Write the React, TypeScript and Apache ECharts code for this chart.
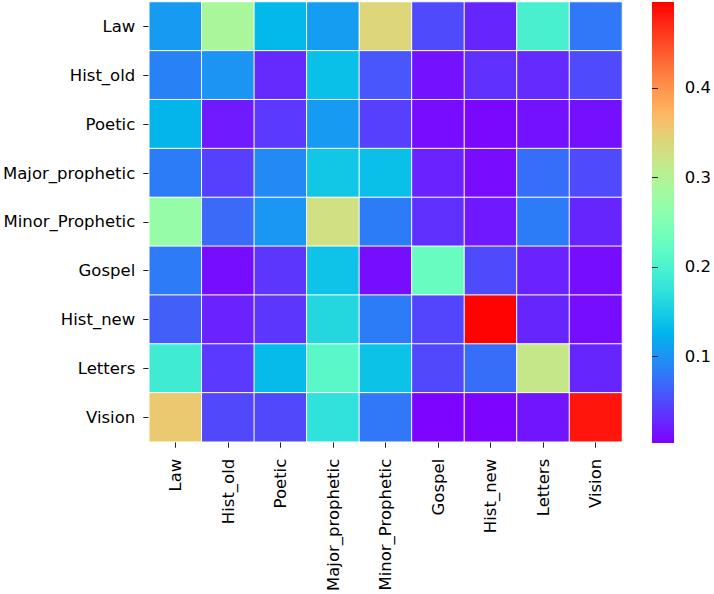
import React, { useEffect, useRef } from "react";
import * as echarts from "echarts";

const categories = [
  "Law",
  "Hist_old",
  "Poetic",
  "Major_prophetic",
  "Minor_Prophetic",
  "Gospel",
  "Hist_new",
  "Letters",
  "Vision",
];

// rows (top to bottom), columns (left to right)
const rowLaw = [0.105, 0.291, 0.129, 0.107, 0.34, 0.05, 0.026, 0.196, 0.08];
const rowHistOld = [0.087, 0.1, 0.029, 0.137, 0.057, 0.014, 0.033, 0.029, 0.05];
const rowPoetic = [0.127, 0.019, 0.038, 0.105, 0.043, 0.01, 0.008, 0.014, 0.013];
const rowMajor = [0.083, 0.043, 0.092, 0.144, 0.137, 0.024, 0.01, 0.073, 0.05];
const rowMinor = [0.272, 0.07, 0.102, 0.328, 0.083, 0.033, 0.018, 0.083, 0.026];
const rowGospel = [0.082, 0.011, 0.036, 0.14, 0.011, 0.227, 0.05, 0.024, 0.011];
const rowHistNew = [0.063, 0.024, 0.036, 0.161, 0.083, 0.046, 0.495, 0.026, 0.011];
const rowLetters = [0.188, 0.038, 0.132, 0.213, 0.139, 0.048, 0.073, 0.318, 0.026];
const rowVision = [0.353, 0.048, 0.048, 0.173, 0.08, 0.006, 0.006, 0.016, 0.483];

const matrix = [
  rowLaw,
  rowHistOld,
  rowPoetic,
  rowMajor,
  rowMinor,
  rowGospel,
  rowHistNew,
  rowLetters,
  rowVision,
];

const colorbarTicks = [0.1, 0.2, 0.3, 0.4];
const VMIN = 0.003;
const VMAX = 0.496;

// matplotlib "rainbow" colormap
function rainbow(x: number): string {
  const r = Math.min(1, Math.abs(2 * x - 0.5));
  const g = Math.sin(Math.PI * x);
  const b = Math.cos((Math.PI * x) / 2);
  const c = (v: number) => Math.round(Math.max(0, Math.min(1, v)) * 255);
  return `rgb(${c(r)},${c(g)},${c(b)})`;
}

const N_COLORS = 64;
const palette = Array.from({ length: N_COLORS }, (_, i) => rainbow(i / (N_COLORS - 1)));

const FONT = "DejaVu Sans";
const FS = 16.5;

export default function App() {
  const ref = useRef<HTMLDivElement>(null);

  useEffect(() => {
    if (!ref.current) return;
    const chart = echarts.init(ref.current, undefined, { renderer: "svg" });

    const data: [number, number, number][] = [];
    matrix.forEach((row, yi) => {
      row.forEach((v, xi) => data.push([xi, yi, v]));
    });

    const gridLeft = 147;
    const gridTop = 2;
    const gridW = 475;
    const gridH = 441;
    const cbLeft = 652;
    const cbW = 22;

    chart.setOption({
      animation: false,
      backgroundColor: "#fff",
      textStyle: { fontFamily: FONT },
      grid: [
        { left: gridLeft, top: gridTop, width: gridW, height: gridH },
        { left: cbLeft, top: gridTop, width: cbW, height: gridH },
      ],
      xAxis: [
        {
          type: "category",
          gridIndex: 0,
          data: categories,
          axisLine: { show: false },
          axisTick: { show: true, alignWithLabel: true, length: 6, lineStyle: { color: "#222" } },
          axisLabel: {
            rotate: 90,
            fontSize: FS,
            color: "#000",
            fontFamily: FONT,
            margin: 17,
          },
          splitLine: { show: false },
        },
        {
          type: "value",
          gridIndex: 1,
          show: false,
          min: 0,
          max: 1,
        },
      ],
      yAxis: [
        {
          type: "category",
          gridIndex: 0,
          data: categories,
          inverse: true,
          axisLine: { show: false },
          axisTick: { show: true, alignWithLabel: true, length: 6, lineStyle: { color: "#222" } },
          axisLabel: {
            fontSize: FS,
            color: "#000",
            fontFamily: FONT,
            margin: 14,
          },
          splitLine: { show: false },
        },
        {
          type: "value",
          gridIndex: 1,
          position: "right",
          min: VMIN,
          max: VMAX,
          axisLine: { show: false },
          axisTick: {
            show: true,
            length: 6,
            lineStyle: { color: "#222" },
            customValues: colorbarTicks,
          },
          axisLabel: {
            fontSize: FS,
            color: "#000",
            fontFamily: FONT,
            margin: 13,
            customValues: colorbarTicks,
            formatter: (v: number) => v.toFixed(1),
          },
          splitLine: { show: false },
        },
      ],
      visualMap: {
        show: false,
        type: "continuous",
        min: VMIN,
        max: VMAX,
        dimension: 2,
        seriesIndex: 0,
        inRange: { color: palette },
      },
      series: [
        {
          type: "heatmap",
          xAxisIndex: 0,
          yAxisIndex: 0,
          data,
          itemStyle: { borderColor: "#fff", borderWidth: 1 },
          emphasis: { disabled: true },
          label: { show: false },
        },
      ],
      graphic: [
        {
          type: "rect",
          shape: { x: cbLeft, y: gridTop, width: cbW, height: gridH },
          silent: true,
          style: {
            fill: {
              type: "linear",
              x: 0,
              y: 1,
              x2: 0,
              y2: 0,
              colorStops: palette.map((c, i) => ({ offset: i / (N_COLORS - 1), color: c })),
            },
            stroke: "none",
          },
        },
      ],
    });

    return () => chart.dispose();
  }, []);

  return (
    <div
      ref={ref}
      style={{ position: "fixed", left: 0, top: 0, width: 714, height: 594 }}
    />
  );
}
